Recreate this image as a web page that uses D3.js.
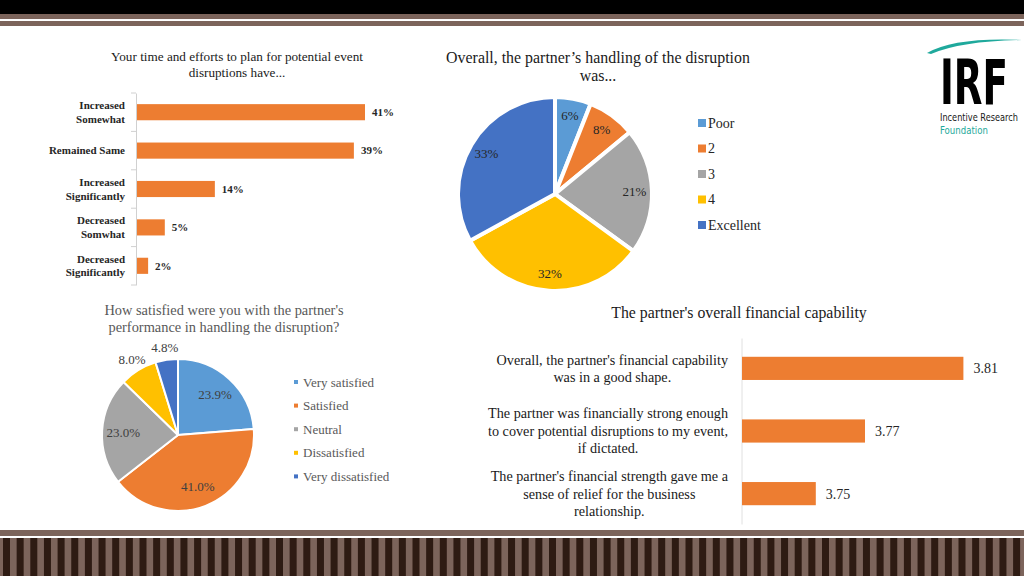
<!DOCTYPE html>
<html><head><meta charset="utf-8">
<script src="https://cdn.jsdelivr.net/npm/d3@7"></script>
<style>html,body{margin:0;padding:0;background:#fff;overflow:hidden}svg{display:block}</style>
</head><body>
<svg id="chart" width="1024" height="576"></svg>
<script>
// ---------- data ----------
const effortTitle = ["Your time and efforts to plan for potential event", "disruptions have..."];
const effortCats = ["Increased\nSomewhat", "Remained Same", "Increased\nSignificantly", "Decreased\nSomwhat", "Decreased\nSignificantly"];
const effortVals = [41, 39, 14, 5, 2];

const handlingTitle = ["Overall, the partner\u2019s handling of the disruption", "was..."];
const handlingCats = ["Poor", "2", "3", "4", "Excellent"];
const handlingVals = [6, 8, 21, 32, 33];

const satTitle = ["How satisfied were you with the partner's", "performance in handling the disruption?"];
const satCats = ["Very satisfied", "Satisfied", "Neutral", "Dissatisfied", "Very dissatisfied"];
const satVals = [23.9, 41.0, 23.0, 8.0, 4.8];

const finTitle = "The partner's overall financial capability";
const finCats = ["Overall, the partner's financial capability\nwas in a good shape.",
  "The partner was financially strong enough\nto cover potential disruptions to my event,\nif dictated.",
  "The partner's financial strength gave me a\nsense of relief for the business\nrelationship."];
const finVals = [3.81, 3.77, 3.75];

const pieColors = ["#5B9BD5", "#ED7D31", "#A5A5A5", "#FFC000", "#4472C4"];
const ORANGE = "#ED7D31";
const SERIF = "'Liberation Serif','DejaVu Serif',serif";
const SANS_C = "'DejaVu Sans Condensed','DejaVu Sans',sans-serif";

const svg = d3.select("#chart");

// ---------- frame decoration ----------
const BROWN = "#7c645b", DARK = "#2e1b13";
svg.append("rect").attr("x",0).attr("y",0).attr("width",1024).attr("height",14).attr("fill","#000");
svg.append("rect").attr("x",0).attr("y",14).attr("width",1024).attr("height",5).attr("fill",BROWN);
svg.append("rect").attr("x",0).attr("y",21).attr("width",1024).attr("height",5).attr("fill",BROWN);
svg.append("rect").attr("x",0).attr("y",530).attr("width",1024).attr("height",6).attr("fill",BROWN);
svg.append("rect").attr("x",0).attr("y",538).attr("width",1024).attr("height",38).attr("fill",BROWN);
const stripeStep = 13.65;
svg.append("g").selectAll("rect").data(d3.range(Math.ceil(1024/stripeStep)+1)).join("rect")
  .attr("x", i => i*stripeStep + 3).attr("y",538).attr("width",7).attr("height",38).attr("fill",DARK);

// ---------- chart 1: effort bars ----------
(function(){
  const g = svg.append("g");
  g.selectAll("text.t").data(effortTitle).join("text")
    .attr("x",237).attr("y",(d,i)=>56+i*16).attr("dy","0.35em").attr("text-anchor","middle")
    .attr("font-family",SERIF).attr("font-size",13.2).attr("fill","#1a1a1a").text(d=>d);
  const y = d3.scaleBand().domain(effortCats).range([93,285]).paddingInner(0.58).paddingOuter(0.29);
  const x = d3.scaleLinear().domain([0,41]).range([137,365]);
  const ax = g.append("g").attr("transform","translate(136,0)").call(d3.axisLeft(y).tickSize(0).tickFormat(""));
  ax.select(".domain").attr("stroke","#d0d0d0");
  const bounds = d3.range(effortCats.length+1).map(i => 93 + i*(192/effortCats.length));
  g.selectAll("line.bt").data(bounds).join("line").attr("x1",131).attr("x2",136)
    .attr("y1",d=>d).attr("y2",d=>d).attr("stroke","#d0d0d0");
  g.selectAll("rect.bar").data(effortVals).join("rect")
    .attr("x",x(0)).attr("y",(d,i)=>y(effortCats[i])).attr("width",d=>x(d)-x(0)).attr("height",y.bandwidth())
    .attr("fill",ORANGE);
  g.selectAll("text.v").data(effortVals).join("text")
    .attr("x",d=>x(d)+7).attr("y",(d,i)=>y(effortCats[i])+y.bandwidth()/2).attr("dy","0.35em")
    .attr("font-family",SERIF).attr("font-size",11).attr("font-weight","bold").attr("fill","#262626").text(d=>d+"%");
  effortCats.forEach((c,i)=>{
    const lines = c.split("\n");
    const cy = y(c)+y.bandwidth()/2;
    g.append("g").selectAll("text").data(lines).join("text")
      .attr("x",125).attr("y",(d,j)=>cy + (j-(lines.length-1)/2)*13.6).attr("dy","0.35em")
      .attr("text-anchor","end").attr("font-family",SERIF).attr("font-size",11).attr("font-weight","bold")
      .attr("fill","#262626").text(d=>d);
  });
})();

// ---------- chart 2: handling pie ----------
(function(){
  const g = svg.append("g");
  g.selectAll("text.t").data(handlingTitle).join("text")
    .attr("x",598).attr("y",(d,i)=>57+i*18).attr("dy","0.35em").attr("text-anchor","middle")
    .attr("font-family",SERIF).attr("font-size",15.9).attr("fill","#1a1a1a").text(d=>d);
  const cx=555, cy=194, r=97;
  const pie = d3.pie().sort(null).value(d=>d);
  const arcs = pie(handlingVals);
  const arc = d3.arc().innerRadius(0).outerRadius(r);
  const lab = d3.arc().innerRadius(r*0.82).outerRadius(r*0.82);
  const pg = g.append("g").attr("transform",`translate(${cx},${cy})`);
  pg.selectAll("path").data(arcs).join("path").attr("d",arc)
    .attr("fill",(d,i)=>pieColors[i]).attr("stroke","#fff").attr("stroke-width",4).attr("stroke-linejoin","round");
  pg.selectAll("text").data(arcs).join("text")
    .attr("transform",d=>`translate(${lab.centroid(d)})`).attr("dy","0.35em").attr("text-anchor","middle")
    .attr("font-family",SERIF).attr("font-size",13).attr("fill","#262626").text(d=>d.data+"%");
  const lg = g.append("g");
  handlingCats.forEach((c,i)=>{
    const yy = 123 + i*25.5;
    lg.append("rect").attr("x",698).attr("y",yy-4).attr("width",8).attr("height",8).attr("fill",pieColors[i]);
    lg.append("text").attr("x",708).attr("y",yy).attr("dy","0.35em").attr("font-family",SERIF)
      .attr("font-size",14).attr("fill","#262626").text(c);
  });
})();

// ---------- chart 3: satisfaction pie ----------
(function(){
  const g = svg.append("g");
  g.selectAll("text.t").data(satTitle).join("text")
    .attr("x",224).attr("y",(d,i)=>310+i*17).attr("dy","0.35em").attr("text-anchor","middle")
    .attr("font-family",SERIF).attr("font-size",14.4).attr("fill","#595959").text(d=>d);
  const cx=178, cy=435, r=76;
  const pie = d3.pie().sort(null).value(d=>d);
  const arcs = pie(satVals);
  const arc = d3.arc().innerRadius(0).outerRadius(r);
  const inLab = d3.arc().innerRadius(r*0.72).outerRadius(r*0.72);
  const outLab = d3.arc().innerRadius(r*1.16).outerRadius(r*1.16);
  const pg = g.append("g").attr("transform",`translate(${cx},${cy})`);
  pg.selectAll("path").data(arcs).join("path").attr("d",arc)
    .attr("fill",(d,i)=>pieColors[i]).attr("stroke","#fff").attr("stroke-width",2).attr("stroke-linejoin","round");
  pg.selectAll("text").data(arcs).join("text")
    .attr("transform",d=>`translate(${(d.data<10?outLab:inLab).centroid(d)})`).attr("dy","0.35em").attr("text-anchor","middle")
    .attr("font-family",SERIF).attr("font-size",13).attr("fill","#404040").text(d=>d.data.toFixed(1)+"%");
  const lg = g.append("g");
  satCats.forEach((c,i)=>{
    const yy = 382 + i*23.6;
    lg.append("rect").attr("x",294).attr("y",yy-2).attr("width",4).attr("height",4).attr("fill",pieColors[i]);
    lg.append("text").attr("x",303).attr("y",yy).attr("dy","0.35em").attr("font-family",SERIF)
      .attr("font-size",13).attr("fill","#595959").text(c);
  });
})();

// ---------- chart 4: financial bars ----------
(function(){
  const g = svg.append("g");
  g.append("text").attr("x",739).attr("y",312).attr("dy","0.35em").attr("text-anchor","middle")
    .attr("font-family",SERIF).attr("font-size",15.8).attr("fill","#1a1a1a").text(finTitle);
  const y = d3.scaleBand().domain(finCats).range([338,524]).paddingInner(0.63).paddingOuter(0.3);
  const x = d3.scaleLinear().domain([3.72,3.82]).range([742,988]);
  const ax = g.append("g").attr("transform","translate(741.5,0)").call(d3.axisLeft(y).tickSize(0).tickFormat(""));
  ax.select(".domain").attr("stroke","#e0e0e0");
  g.selectAll("rect.bar").data(finVals).join("rect")
    .attr("x",x(3.72)).attr("y",(d,i)=>y(finCats[i])).attr("width",d=>x(d)-x(3.72)).attr("height",y.bandwidth())
    .attr("fill",ORANGE);
  g.selectAll("text.v").data(finVals).join("text")
    .attr("x",d=>x(d)+10).attr("y",(d,i)=>y(finCats[i])+y.bandwidth()/2).attr("dy","0.35em")
    .attr("font-family",SERIF).attr("font-size",14).attr("fill","#262626").text(d=>d.toFixed(2));
  finCats.forEach(c=>{
    const lines = c.split("\n");
    const cy = y(c)+y.bandwidth()/2;
    const tg = g.append("g");
    const ts = tg.selectAll("text").data(lines).join("text")
      .attr("y",(d,j)=>cy + (j-(lines.length-1)/2)*17.5).attr("dy","0.35em")
      .attr("text-anchor","middle").attr("font-family",SERIF).attr("font-size",14.2)
      .attr("fill","#1a1a1a").text(d=>d);
    const maxW = d3.max(ts.nodes(), n => n.getComputedTextLength());
    ts.attr("x", 728 - maxW/2);
  });
})();

// ---------- logo ----------
(function(){
  const g = svg.append("g");
  g.append("path").attr("d","M927,53 Q955,37 1022,40 Q962,41 931,54 Z").attr("fill","#1fa99c");
  function fitText(txt, x, y, size, width, weight, fill){
    const t = g.append("text").attr("x",0).attr("y",0).attr("font-family",SANS_C)
      .attr("font-size",size).attr("font-weight",weight).attr("fill",fill).text(txt);
    const w = t.node().getComputedTextLength();
    t.attr("transform",`translate(${x},${y}) scale(${width/w},1)`);
  }
  fitText("IRF", 940, 104, 62, 68, "bold", "#000");
  fitText("Incentive Research", 940, 121, 11, 78, "normal", "#1a1a1a");
  fitText("Foundation", 940, 134, 11, 48, "normal", "#1fa99c");
})();
</script>
</body></html>
